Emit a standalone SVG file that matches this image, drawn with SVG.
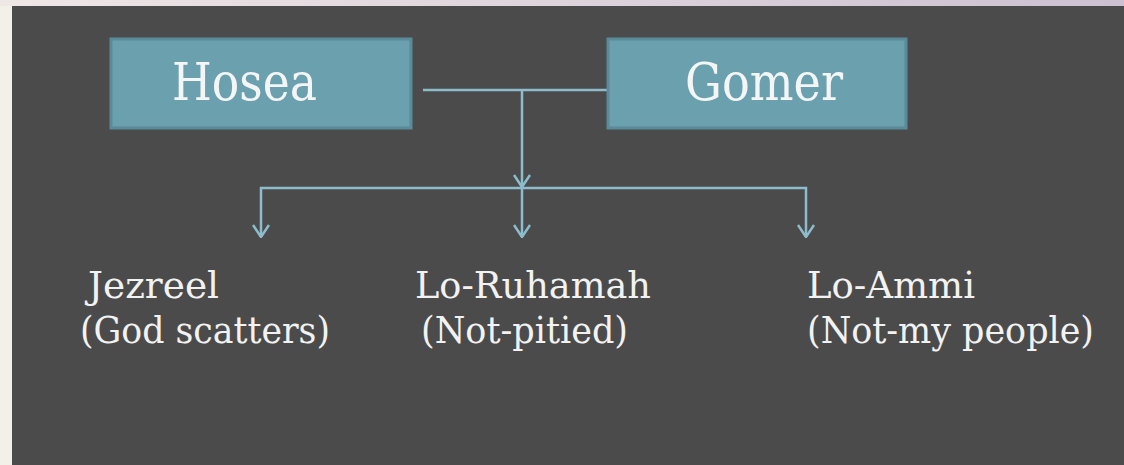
<svg xmlns="http://www.w3.org/2000/svg" width="1124" height="465" viewBox="0 0 1124 465">
<style>
.box{fill:#6ba0af;stroke:#5b8b99;stroke-width:3}
.name{font-family:"DejaVu Serif","Liberation Serif",serif;font-size:52px;fill:#f4f6f6}
.child{font-family:"DejaVu Serif","Liberation Serif",serif;font-size:38px;fill:#f2f2f2}
.conn{fill:none;stroke:#8dbccb;stroke-width:2.5}
</style>
<defs>
<linearGradient id="top" x1="0" y1="0" x2="1" y2="0">
<stop offset="0" stop-color="#efe6e6"/><stop offset="1" stop-color="#cbc1d1"/>
</linearGradient>
<marker id="arr" viewBox="0 0 14 18" refX="13" refY="9" markerWidth="14" markerHeight="18" markerUnits="userSpaceOnUse" orient="auto-start-reverse">
<path d="M1,1 L13,9 L1,17" fill="none" stroke="#8dbccb" stroke-width="2.5"/>
</marker>
</defs>
<rect x="0" y="0" width="1124" height="465" fill="#f3efe9"/>
<rect x="0" y="0" width="1124" height="6" fill="url(#top)"/>
<rect x="12" y="6" width="1112" height="459" fill="#4b4b4b"/>
<g id="connectors">
<path class="conn" d="M423,90 H607"/>
<path class="conn" d="M522,90 V187" marker-end="url(#arr)"/>
<path class="conn" d="M261,237 V188 H806 V237" marker-start="url(#arr)" marker-end="url(#arr)"/>
<path class="conn" d="M522,188 V237" marker-end="url(#arr)"/>
</g>
<g id="hosea">
<rect class="box" x="111" y="39" width="300" height="89"/>
<text class="name" x="172" y="100" textLength="145" lengthAdjust="spacingAndGlyphs">Hosea</text>
</g>
<g id="gomer">
<rect class="box" x="608" y="39" width="298" height="89"/>
<text class="name" x="685" y="100" textLength="158" lengthAdjust="spacingAndGlyphs">Gomer</text>
</g>
<g id="jezreel">
<text class="child" x="88" y="298" textLength="131" lengthAdjust="spacingAndGlyphs">Jezreel</text>
<text class="child" x="80" y="343" textLength="250" lengthAdjust="spacingAndGlyphs">(God scatters)</text>
</g>
<g id="loruhamah">
<text class="child" x="415" y="298" textLength="236" lengthAdjust="spacingAndGlyphs">Lo-Ruhamah</text>
<text class="child" x="421" y="343" textLength="207" lengthAdjust="spacingAndGlyphs">(Not-pitied)</text>
</g>
<g id="loammi">
<text class="child" x="807" y="298" textLength="168" lengthAdjust="spacingAndGlyphs">Lo-Ammi</text>
<text class="child" x="807" y="343" textLength="287" lengthAdjust="spacingAndGlyphs">(Not-my people)</text>
</g>
</svg>
